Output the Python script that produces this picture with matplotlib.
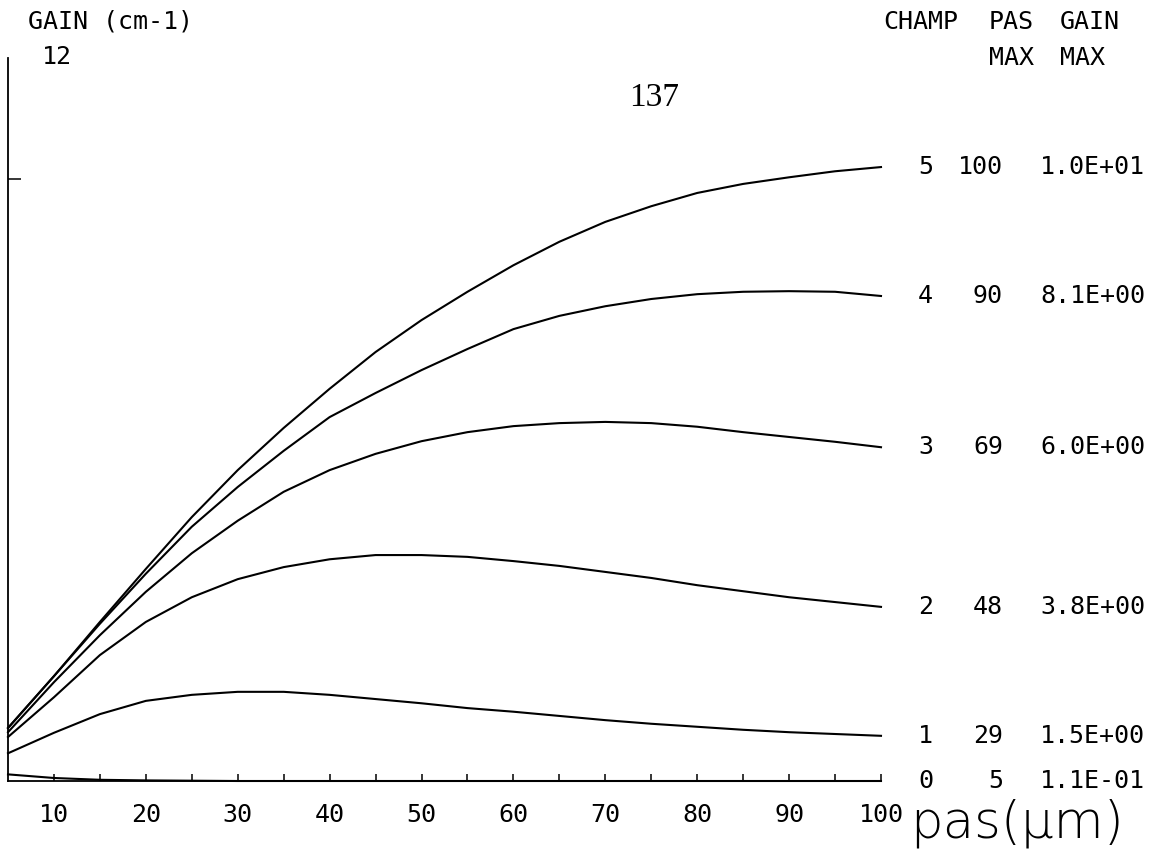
import matplotlib
matplotlib.use("Agg")
import matplotlib.pyplot as plt

# pas (um) sampled every 5 um
pas = [5, 10, 15, 20, 25, 30, 35, 40, 45, 50, 55, 60, 65, 70, 75, 80, 85, 90, 95, 100]

# gain (cm-1) for each champ value
gain_5 = [0.88, 1.74, 2.64, 3.52, 4.38, 5.16, 5.86, 6.51, 7.12, 7.65,
          8.12, 8.56, 8.95, 9.28, 9.54, 9.76, 9.91, 10.02, 10.12, 10.19]
gain_4 = [0.88, 1.74, 2.61, 3.44, 4.22, 4.88, 5.48, 6.04, 6.44, 6.82,
          7.17, 7.50, 7.72, 7.88, 8.00, 8.08, 8.12, 8.13, 8.12, 8.05]
gain_3 = [0.81, 1.64, 2.42, 3.14, 3.78, 4.32, 4.80, 5.16, 5.43, 5.64,
          5.79, 5.89, 5.94, 5.96, 5.94, 5.88, 5.79, 5.71, 5.63, 5.54]
gain_2 = [0.73, 1.39, 2.09, 2.64, 3.05, 3.35, 3.55, 3.68, 3.75, 3.75,
          3.72, 3.65, 3.57, 3.47, 3.37, 3.25, 3.15, 3.05, 2.97, 2.89]
gain_1 = [0.46, 0.80, 1.11, 1.33, 1.43, 1.48, 1.48, 1.43, 1.36, 1.29,
          1.21, 1.15, 1.08, 1.01, 0.95, 0.90, 0.85, 0.81, 0.78, 0.75]
gain_0 = [0.11, 0.05, 0.02, 0.01, 0.005, 0.0, 0.0, 0.0, 0.0, 0.0,
          0.0, 0.0, 0.0, 0.0, 0.0, 0.0, 0.0, 0.0, 0.0, 0.0]

champ = [5, 4, 3, 2, 1, 0]
pas_max = [100, 90, 69, 48, 29, 5]
gain_max = [10.0, 8.1, 6.0, 3.8, 1.5, 0.11]
curves = [gain_5, gain_4, gain_3, gain_2, gain_1, gain_0]

xticks = list(range(10, 101, 5))
xlabels = [str(v) if v % 10 == 0 else "" for v in xticks]

W, H = 1151, 856
mono = "DejaVu Sans Mono"
fs = 18


def fpos(x, y):
    # pixel position (from top-left) -> figure fraction
    return x / W, 1 - y / H


fig = plt.figure(figsize=(W / 100, H / 100), dpi=100)
ax = fig.add_axes([8 / W, 75 / H, 873 / W, 723 / H])
ax.set_xlim(5, 100)
ax.set_ylim(0, 12)

for g in curves:
    ax.plot(pas, g, color="black", lw=1.5, clip_on=False, solid_joinstyle="round")

for s in ["top", "right"]:
    ax.spines[s].set_visible(False)
for s in ["left", "bottom"]:
    ax.spines[s].set_linewidth(1.3)

ax.set_xticks(xticks)
ax.set_xticklabels(xlabels, fontfamily=mono, fontsize=fs)
ax.tick_params(axis="x", direction="in", length=5, width=1.1, pad=16)
ax.set_yticks([10])
ax.set_yticklabels([""])
ax.tick_params(axis="y", direction="in", length=9, width=1.1)

# labels at the end of each curve
for c, p, gm, g in zip(champ, pas_max, gain_max, curves):
    txt = dict(textcoords="offset pixels", va="center", fontfamily=mono, fontsize=fs,
               annotation_clip=False)
    ax.annotate(str(c), xy=(100, g[-1]), xytext=(37, 0), ha="left", **txt)
    ax.annotate(str(p), xy=(100, g[-1]), xytext=(122, 0), ha="right", **txt)
    ax.annotate(f"{gm:.1E}", xy=(100, g[-1]), xytext=(264, 0), ha="right", **txt)

# header texts
fig.text(*fpos(28, 21), "GAIN (cm-1)", fontfamily=mono, fontsize=fs, va="center", ha="left")
fig.text(*fpos(42, 57), "12", fontfamily=mono, fontsize=fs, va="center", ha="left")
fig.text(*fpos(883, 22), "CHAMP", fontfamily=mono, fontsize=fs, va="center", ha="left")
fig.text(*fpos(989, 22), "PAS", fontfamily=mono, fontsize=fs, va="center", ha="left")
fig.text(*fpos(1060, 22), "GAIN", fontfamily=mono, fontsize=fs, va="center", ha="left")
fig.text(*fpos(989, 58), "MAX", fontfamily=mono, fontsize=fs, va="center", ha="left")
fig.text(*fpos(1060, 58), "MAX", fontfamily=mono, fontsize=fs, va="center", ha="left")

fig.text(*fpos(654, 98), "137", fontfamily="Liberation Serif", fontsize=24,
         va="center", ha="center")

fig.text(*fpos(910, 838), "pas(µm)", fontfamily="DejaVu Sans", fontsize=37,
         fontweight="light", va="baseline", ha="left")

fig.savefig("out.png", dpi=100, facecolor="white")
